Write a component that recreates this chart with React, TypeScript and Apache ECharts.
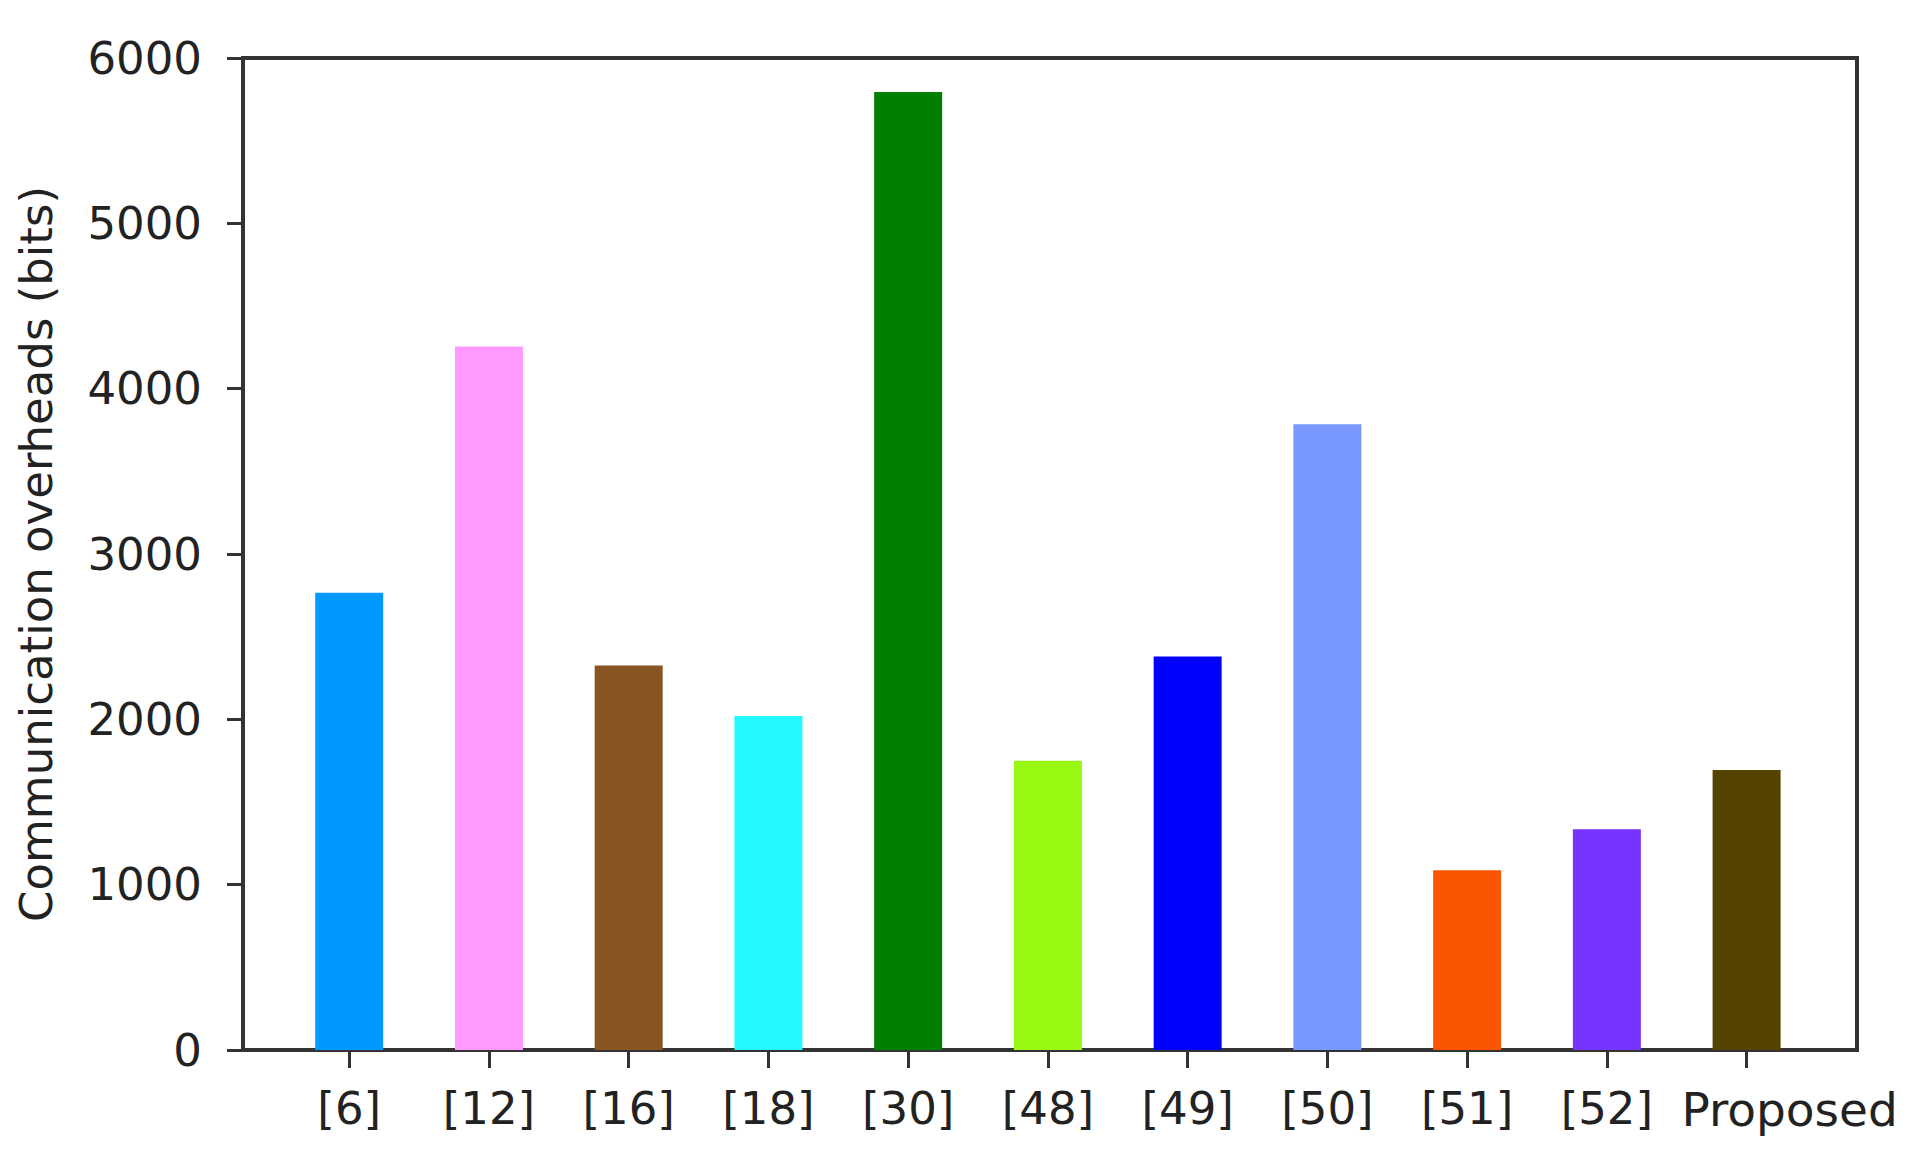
import React, { useEffect, useRef } from "react";
import * as echarts from "echarts";

const categories = ["[6]", "[12]", "[16]", "[18]", "[30]", "[48]", "[49]", "[50]", "[51]", "[52]", "Proposed"];
const overheads = [2765, 4255, 2325, 2020, 5795, 1750, 2380, 3785, 1087, 1335, 1694];
const barColors = ["#0099FF", "#FF99FF", "#885522", "#22F8FF", "#007F00", "#99F811", "#0000FF", "#7799FF", "#FA5500", "#7733FF", "#554400"];
const yTicks = [0, 1000, 2000, 3000, 4000, 5000, 6000];
const yAxisName = "Communication overheads (bits)";

const FONT = "DejaVu Sans";
const AXIS = "#333333";
const TEXT = "#222222";

export default function App() {
  const ref = useRef<HTMLDivElement>(null);
  useEffect(() => {
    if (!ref.current) return;
    const chart = echarts.init(ref.current, undefined, { renderer: "svg" });
    const idx = categories.map((_, i) => i);
    chart.setOption({
      animation: false,
      backgroundColor: "#ffffff",
      grid: {
        left: 243,
        right: 66,
        top: 58,
        bottom: 112,
        show: true,
        borderColor: AXIS,
        borderWidth: 4,
        backgroundColor: "transparent",
      },
      xAxis: {
        type: "value",
        min: -0.76,
        max: 10.79,
        splitLine: { show: false },
        axisLine: { show: true, onZero: false, lineStyle: { color: AXIS, width: 4 } },
        axisTick: { show: true, customValues: idx, length: 18, lineStyle: { color: AXIS, width: 3 } },
        axisLabel: {
          customValues: idx,
          margin: 36,
          fontSize: 45,
          fontFamily: FONT,
          color: TEXT,
          formatter: (v: number) => {
            const i = Math.round(v);
            const name = categories[i] ?? "";
            return i === categories.length - 1 ? "{p|" + name + "}" : name;
          },
          rich: {
            p: { fontSize: 47, fontFamily: FONT, color: TEXT, padding: [0, 0, 4, 86] },
          },
        },
      },
      yAxis: {
        type: "value",
        min: yTicks[0],
        max: yTicks[yTicks.length - 1],
        interval: 1000,
        splitLine: { show: false },
        axisLine: { show: true, onZero: false, lineStyle: { color: AXIS, width: 4 } },
        axisTick: { show: true, length: 16, lineStyle: { color: AXIS, width: 3 } },
        axisLabel: {
          margin: 41,
          fontSize: 45,
          fontFamily: FONT,
          color: TEXT,
          formatter: (v: number) => String(v),
        },
        name: yAxisName,
        nameLocation: "middle",
        nameRotate: 90,
        nameGap: 184,
        nameTextStyle: { fontSize: 45, fontFamily: FONT, color: TEXT },
      },
      series: [
        {
          type: "bar",
          barWidth: 68,
          data: overheads.map((v, i) => ({ value: [i, v], itemStyle: { color: barColors[i] } })),
        },
      ],
    });
    return () => chart.dispose();
  }, []);
  return <div ref={ref} style={{ position: "fixed", left: 0, top: 0, width: 1923, height: 1162 }} />;
}
